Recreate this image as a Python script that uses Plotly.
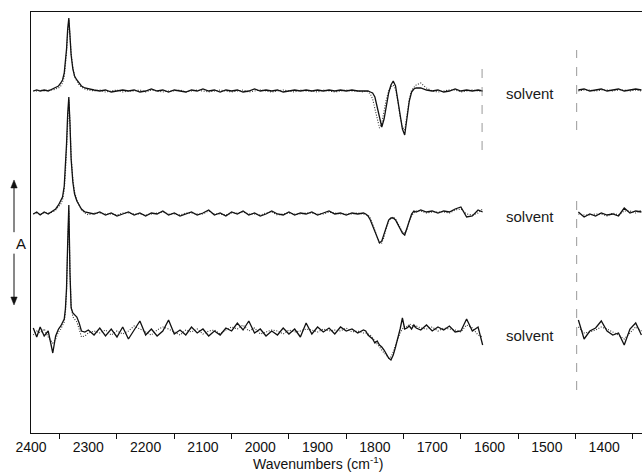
import plotly.graph_objects as go

# ---------------- data ----------------
# wavenumber sampling, left segment (2400 -> solvent window) and right segment
wn_peak = [2396, 2390, 2384, 2377, 2370, 2362, 2357, 2352, 2348, 2345, 2342, 2340,
           2338, 2336, 2334, 2332, 2330, 2327, 2324, 2320, 2316, 2312, 2306, 2300]
wn_mid = [2290, 2280, 2270, 2260, 2250, 2240, 2230, 2220, 2210, 2200, 2190, 2180,
          2170, 2160, 2150, 2140, 2130, 2120, 2110, 2100, 2090, 2080, 2070, 2060,
          2050, 2040, 2030, 2020, 2010, 2000, 1990, 1980, 1970, 1960, 1950, 1940,
          1930, 1920, 1910, 1900, 1890, 1880, 1870, 1860, 1850, 1840, 1830, 1820]
wn_band = [1816, 1812, 1808, 1804, 1800, 1796, 1792, 1788, 1784, 1780, 1776, 1772,
           1768, 1764, 1760, 1756, 1752, 1748, 1744, 1740, 1736, 1732, 1728]
wn_tail = [1720, 1710, 1700, 1690, 1680, 1670, 1660, 1650, 1640, 1630, 1620, 1612]
wn_right = [1445, 1435, 1425, 1415, 1405, 1395, 1385, 1375, 1365, 1355, 1345, 1335]

# baselines of the three stacked spectra (arbitrary absorbance units)
baselines = [342, 219, 100]

# spectrum 1 (top)
s1_solid_peak = [0, 1, 0, 1, 0, 2, 3, 5, 8, 11, 18, 28, 42, 62, 73, 55, 36, 22, 15, 11, 8, 5, 3, 2]
s1_dot_peak = [0, 0, 1, 0, 1, 1, 2, 3, 5, 8, 14, 24, 38, 58, 71, 56, 38, 24, 14, 10, 6, 4, 2, 1]
s1_solid_mid = [1, 0, 1, -1, 0, 1, 0, 1, -1, 0, 2, 0, 1, -1, 1, 0, -1, 1, 0, 2,
                0, 1, -1, 1, 0, 1, -1, 0, 2, 0, 1, 0, 1, -1, 0, 1, 0, 1, 0, 1,
                0, 1, 0, 1, 0, 1, 0, 0]
s1_dot_mid = [0, 1, -1, 0, 1, -1, 0, 0, 1, -1, 1, 0, -1, 0, 0, 1, -1, 0, 1, 0,
              -1, 0, 1, 0, -1, 0, 1, -1, 0, 1, 0, -1, 0, 1, 0, -1, 1, 0, 0, -1,
              1, 0, -1, 0, 1, 0, 0, -1]
s1_solid_band = [0, 0, -1, -2, -6, -16, -28, -36, -28, -14, -2, 6, 10, 5, -8, -24, -38, -44, -28, -10, -1, 2, 3]
s1_dot_band = [0, -1, -3, -8, -18, -30, -37, -32, -20, -8, 0, 4, 6, 2, -10, -26, -36, -39, -24, -8, 1, 4, 6]
s1_solid_tail = [3, 1, 0, 1, -1, 0, 2, 0, 1, 0, 1, 0]
s1_dot_tail = [8, 3, 0, -1, 0, 1, 1, -1, 0, 1, 0, 0]
s1_solid_right = [1, 2, 0, 1, 2, 0, 1, 2, 0, 1, 2, 1]
s1_dot_right = [0, 1, 1, 0, 1, 1, 0, 1, 1, 0, 1, 0]

# spectrum 2 (middle)
s2_solid_peak = [0, 2, -1, 2, 0, 3, 5, 9, 13, 17, 28, 45, 70, 100, 117, 90, 55, 32, 20, 13, 9, 5, 2, 1]
s2_dot_peak = [0, 1, 0, 1, 1, 2, 4, 7, 10, 14, 24, 40, 65, 96, 114, 92, 58, 35, 22, 14, 9, 4, 1, -1]
s2_solid_mid = [0, 2, -1, 1, -2, 0, 2, -1, 1, -2, 1, 0, 3, -1, 1, -2, 0, 2, -1, 1,
                4, -1, 1, -2, 2, 0, 3, -1, 1, -2, 0, 3, 0, -1, 2, -1, 1, 0, 2, -1,
                1, 3, 0, 1, -1, 1, 0, 1]
s2_dot_mid = [1, 1, 0, 0, -1, 1, 1, 0, 0, -1, 0, 1, 2, 0, 0, -1, 1, 1, 0, 0,
              3, 0, 0, -1, 1, 1, 2, 0, 0, -1, 1, 2, -1, 0, 1, 0, 0, 1, 1, 0,
              0, 2, 1, 0, 0, 0, 1, 0]
s2_solid_band = [0, -2, -6, -12, -19, -25, -29, -27, -20, -12, -6, -4, -4, -6, -10, -15, -19, -21, -14, -5, 0, 3, 2]
s2_dot_band = [0, -1, -4, -10, -17, -24, -29, -29, -23, -14, -7, -4, -3, -5, -9, -14, -18, -19, -15, -7, -2, 1, 3]
s2_solid_tail = [4, 2, 3, 1, 3, 2, 5, 7, -3, -2, 4, 2]
s2_dot_tail = [3, 1, 2, 2, 2, 1, 4, 5, 0, -1, 1, 5]
s2_solid_right = [2, -3, 0, -2, 1, -1, 0, -2, 6, 1, 3, 2]
s2_dot_right = [0, -1, -1, 0, 0, -2, 1, -1, 3, 3, 1, 4]

# spectrum 3 (bottom)
s3_solid_peak = [5, -4, 6, -3, 2, -20, -3, 4, 7, 10, 14, 24, 45, 90, 128, 60, 25, 20, 18, 16, 10, 2, 1, 3]
s3_dot_peak = [-2, 2, 0, 4, -4, -10, -6, 1, 4, 7, 11, 20, 40, 85, 122, 62, 28, 16, 14, 11, 4, -4, -3, 0]
s3_solid_mid = [-2, 5, -3, 4, -4, 6, -6, 3, 12, -2, 4, -3, 2, 13, -1, 3, -2, 6, 0, 4,
                -3, 2, -2, 5, 2, 10, 3, 12, 0, 4, -3, 2, -2, 5, -1, 4, -4, 10, -1, 6,
                1, 5, -1, 6, 2, 4, 0, 3]
s3_dot_mid = [2, 0, 3, -2, 2, -1, 2, 7, 4, 1, -2, 3, 6, 4, 1, -2, 3, 1, 4, -1,
              2, 3, -1, 3, 6, 4, 8, 2, 5, -1, 1, 3, 2, -1, 3, 1, 2, 4, 3, 1,
              4, 2, 3, 2, 5, 1, 2, 0]
s3_solid_band = [2, -2, -4, -6, -10, -8, -12, -14, -17, -21, -25, -27, -22, -14, -6, 4, 15, 4, 5, 7, 4, 8, 5]
s3_dot_band = [0, -1, -2, -5, -8, -12, -15, -18, -20, -22, -25, -24, -19, -12, -5, 0, 4, 7, 6, 9, 8, 6, 7]
s3_solid_tail = [3, 8, 2, 6, 3, 7, 1, 2, 14, 2, 6, -12]
s3_dot_tail = [5, 4, 6, 2, 5, 4, 3, 1, 8, 5, -2, -4]
s3_solid_right = [13, -6, 2, 5, 12, 2, -2, 0, -12, 4, 10, -2]
s3_dot_right = [6, 0, 1, 3, 6, 4, 1, -2, -6, 0, 6, 2]

x_ticks = [2400, 2300, 2200, 2100, 2000, 1900, 1800, 1700, 1600, 1500, 1400]
x_minor_ticks = [2350, 2250, 2150, 2050, 1950, 1850, 1750, 1650, 1550, 1450, 1350]
x_title = "Wavenumbers (cm<sup>-1</sup>)"
solvent_label = "solvent"
solvent_wn = 1529
# dashed solvent-window markers: (wavenumber, y from, y to)
window_marks = [(1613, 283, 368), (1448, 303, 383), (1448, 43, 233)]

# ---------------- figure ----------------
wn_left = wn_peak + wn_mid + wn_band + wn_tail
x_all = wn_left + [None] + wn_right

series = [
    (s1_solid_peak + s1_solid_mid + s1_solid_band + s1_solid_tail, s1_solid_right,
     s1_dot_peak + s1_dot_mid + s1_dot_band + s1_dot_tail, s1_dot_right),
    (s2_solid_peak + s2_solid_mid + s2_solid_band + s2_solid_tail, s2_solid_right,
     s2_dot_peak + s2_dot_mid + s2_dot_band + s2_dot_tail, s2_dot_right),
    (s3_solid_peak + s3_solid_mid + s3_solid_band + s3_solid_tail, s3_solid_right,
     s3_dot_peak + s3_dot_mid + s3_dot_band + s3_dot_tail, s3_dot_right),
]

fig = go.Figure()
for base, (sl, sr, dl, dr) in zip(baselines, series):
    assert len(sl) == len(wn_left) and len(dl) == len(wn_left)
    assert len(sr) == len(wn_right) and len(dr) == len(wn_right)
    y_dot = [base + v for v in dl] + [None] + [base + v for v in dr]
    y_sol = [base + v for v in sl] + [None] + [base + v for v in sr]
    fig.add_trace(go.Scatter(x=x_all, y=y_dot, mode="lines",
                             line=dict(color="#333333", width=1.1, dash="1px,1.6px"),
                             connectgaps=False, showlegend=False))
    fig.add_trace(go.Scatter(x=x_all, y=y_sol, mode="lines",
                             line=dict(color="#111111", width=1.3),
                             connectgaps=False, showlegend=False))

for base in baselines:
    fig.add_annotation(x=solvent_wn, y=base - 2, xref="x", yref="y", text=solvent_label,
                       showarrow=False, font=dict(size=15, color="#1a1a1a"))

for wn, y0, y1 in window_marks:
    fig.add_shape(type="line", xref="x", yref="y", x0=wn, x1=wn, y0=y0, y1=y1,
                  line=dict(color="#9a9a9a", width=1, dash="dash"))

# "A" scale arrow in the left margin (paper coordinates)
ax_x = -0.0278
hw, hh = 0.0052, 0.019
fig.add_shape(type="line", xref="paper", yref="paper", x0=ax_x, x1=ax_x, y0=0.477, y1=0.59,
              line=dict(color="#111", width=1))
fig.add_shape(type="line", xref="paper", yref="paper", x0=ax_x, x1=ax_x, y0=0.315, y1=0.426,
              line=dict(color="#111", width=1))
fig.add_shape(type="path", xref="paper", yref="paper",
              path=f"M {ax_x},{0.601} L {ax_x - hw},{0.601 - hh} L {ax_x + hw},{0.601 - hh} Z",
              fillcolor="#111", line=dict(color="#111", width=0.5))
fig.add_shape(type="path", xref="paper", yref="paper",
              path=f"M {ax_x},{0.304} L {ax_x - hw},{0.304 + hh} L {ax_x + hw},{0.304 + hh} Z",
              fillcolor="#111", line=dict(color="#111", width=0.5))
fig.add_annotation(x=ax_x, y=0.451, xref="paper", yref="paper", text="A",
                   showarrow=False, font=dict(size=15, color="#111"))

# x-axis title placed as an annotation under the tick labels
fig.add_annotation(x=0.469, y=-0.072, xref="paper", yref="paper", text=x_title,
                   showarrow=False, yanchor="middle", font=dict(size=14, color="#111"))

fig.update_layout(
    width=642, height=473,
    margin=dict(l=31, r=0, t=12, b=40),
    paper_bgcolor="white", plot_bgcolor="white",
    font=dict(family="Liberation Sans, Arial, sans-serif", color="#111"),
    xaxis=dict(range=[2400, 1334], showgrid=False, zeroline=False,
               showline=True, mirror=True, linecolor="#111", linewidth=1.2,
               tickvals=x_ticks, ticktext=[str(v) for v in x_ticks],
               ticks="outside", ticklen=1, tickcolor="rgba(0,0,0,0)",
               tickfont=dict(size=14),
               minor=dict(tickvals=x_minor_ticks, ticks="outside", ticklen=5,
                          tickcolor="#111", tickwidth=1)),
    yaxis=dict(range=[0, 421], showgrid=False, zeroline=False, showline=True,
               linecolor="#111", linewidth=1.2, showticklabels=False, ticks=""),
)

fig.write_html("out.html")
